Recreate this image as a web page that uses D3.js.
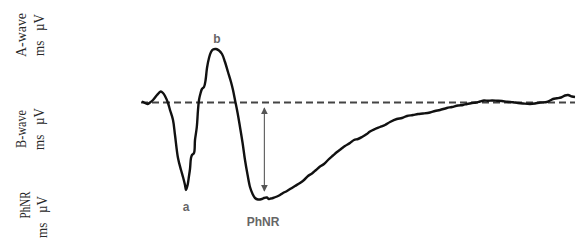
<!DOCTYPE html>
<html>
<head>
<meta charset="utf-8">
<script src="https://cdn.jsdelivr.net/npm/d3@7"></script>
<style>
  html, body { margin: 0; padding: 0; background: #fff; }
  svg { display: block; }
  .side { font-family: "Liberation Serif", serif; font-size: 14px; fill: #2a2a2a; white-space: pre; }
  .peak { font-family: "Liberation Sans", Arial, sans-serif; font-size: 12px; font-weight: bold; fill: #666; }
</style>
</head>
<body>
<svg id="erg"></svg>
<script>
(function() {

    // ERG trace (time in ms, amplitude in µV)
    const timeMs = [0.4, 1.5, 3.2, 4.5, 6, 8, 9.9, 11, 12, 13.5, 14.5, 16, 17, 18.5, 20, 21, 22, 22.5, 23.3, 24,
        24.5, 25, 25.5, 26.5, 27, 27.9, 28.5, 29, 29.8, 30.5, 31.5, 32.3, 33, 34, 35, 36, 37.5, 39, 40.5, 42,
        43.5, 45, 46, 47, 48.3, 49.5, 50.8, 52, 53.3, 54.5, 55.8, 57, 58.5, 60.4, 61.5, 62.9, 64, 65, 66, 68,
        69.5, 71, 73, 75, 77, 79.5, 81.5, 83.5, 85.5, 87.5, 89.5, 91.5, 93.5, 96, 98, 100, 102, 104.5, 106.5, 108.5,
        110.5, 112.9, 114.5, 117, 119.5, 122, 124.5, 127.9, 130.5, 133, 136, 138.5, 141, 144.5, 147, 149.5, 152.9, 155.5, 158.5, 161,
        163, 165.5, 167.5, 169.5, 171.5, 173.5, 175.5, 178, 180.5, 183, 186, 188.5, 191, 194.5, 197, 199.5, 202.9, 204.5,
        206, 208, 210, 212, 213.5, 215.5, 217];
    const amplitudeUv = [1, 0, -1.5, 0, 2.5, 7.5, 11, 9.5, 6.5, -0.5, -7.5, -17.5, -32.5, -55.5, -67.5, -74.5, -82.5, -87.5, -82.5, -73.5,
        -66.5, -55.5, -52.5, -50.5, -37.5, -24.5, -7.5, 2.5, 9.5, 13.5, 15.5, 22.5, 34.5, 44.5, 50.5, 53, 53.5, 52, 48.5, 40.5,
        30.5, 20.5, 12.5, 2.5, -10.5, -24.5, -40.5, -57.5, -72.5, -84.5, -91.5, -95.5, -97, -96.5, -95.5, -95, -96.5, -96, -95.5, -94,
        -92.5, -90.5, -88.5, -86, -83.5, -80.5, -77.5, -73.5, -71, -67.5, -64, -61.5, -57.5, -53, -49.5, -46.5, -43.5, -40.5, -37.5, -36.5,
        -34.5, -31.5, -29, -26.5, -24.5, -22.5, -19.5, -16.5, -15.5, -13.5, -12.5, -11.5, -11, -10, -8.5, -7.5, -5.5, -4.5, -3, -2.5,
        -1.5, -0.5, 0, 1, 2, 1.7, 2, 1.8, 1.5, 0.7, 0.2, -0.5, -1, -1.5, -1, 0, 0.5, 2,
        3.5, 4.2, 5, 7, 7.5, 6, 5.5];

    // peak labels: [text, time, amplitude]
    const peakLabels = [['b', 38, 64], ['a', 22.5, -104], ['PhNR', 61, -119]];

    // PhNR amplitude marker (baseline to trough)
    const phnrArrow = { time: 61.7, from: -5.5, to: -88.5 };

    // rotated measurement captions on the left
    const sideTitles = ['A-wave', 'B-wave', 'PhNR'];
    const sideUnits = 'ms   µV';

    const w = 576;
    const h = 249;

    const svg = d3.select('#erg')
        .attr('width', w)
        .attr('height', h);

    const x = d3.scaleLinear().domain([0, 217]).range([141, 575]);
    const y = d3.scaleLinear().domain([-100, 70]).range([202.5, 32.5]);

    const trace = timeMs.map((t, i) => [t, amplitudeUv[i]]);

    // baseline
    svg.append('line')
        .attr('x1', x(0))
        .attr('x2', x(217))
        .attr('y1', y(0))
        .attr('y2', y(0))
        .attr('stroke', '#444')
        .attr('stroke-width', 2)
        .attr('stroke-dasharray', '7,4');

    const line = d3.line()
        .x(d => x(d[0]))
        .y(d => y(d[1]))
        .curve(d3.curveCatmullRom);

    svg.append('path')
        .datum(trace)
        .attr('d', line)
        .attr('fill', 'none')
        .attr('stroke', '#111')
        .attr('stroke-width', 2.4)
        .attr('stroke-linejoin', 'round');

    // arrow markers
    const defs = svg.append('defs');
    defs.append('marker')
        .attr('id', 'head')
        .attr('viewBox', '0 0 10 10')
        .attr('refX', 9)
        .attr('refY', 5)
        .attr('markerWidth', 6)
        .attr('markerHeight', 6)
        .attr('orient', 'auto-start-reverse')
        .append('path')
        .attr('d', 'M0,0 L10,5 L0,10 z')
        .attr('fill', '#555');

    svg.append('line')
        .attr('x1', x(phnrArrow.time))
        .attr('x2', x(phnrArrow.time))
        .attr('y1', y(phnrArrow.from))
        .attr('y2', y(phnrArrow.to))
        .attr('stroke', '#666')
        .attr('stroke-width', 1.2)
        .attr('marker-start', 'url(#head)')
        .attr('marker-end', 'url(#head)');

    svg.selectAll('.peak')
        .data(peakLabels)
        .enter()
        .append('text')
        .attr('class', 'peak')
        .attr('x', d => x(d[1]))
        .attr('y', d => y(d[2]))
        .attr('text-anchor', 'middle')
        .attr('dominant-baseline', 'central')
        .text(d => d[0]);

    // left captions, rotated
    const titleX = [26, 26, 30];
    const titleY = [35, 129, 205];
    const titleLen = [44, 38, 27];
    const unitX = [44, 44, 47];
    const unitY = [35, 129, 217];

    sideTitles.forEach((title, i) => {
        svg.append('text')
            .attr('class', 'side')
            .attr('transform', `translate(${titleX[i]},${titleY[i]}) rotate(-90)`)
            .attr('text-anchor', 'middle')
            .attr('textLength', titleLen[i])
            .attr('lengthAdjust', 'spacingAndGlyphs')
            .text(title);
        svg.append('text')
            .attr('class', 'side')
            .attr('transform', `translate(${unitX[i]},${unitY[i]}) rotate(-90)`)
            .attr('text-anchor', 'middle')
            .attr('textLength', 42)
            .attr('lengthAdjust', 'spacingAndGlyphs')
            .text(sideUnits);
    });

})();
</script>
</body>
</html>
